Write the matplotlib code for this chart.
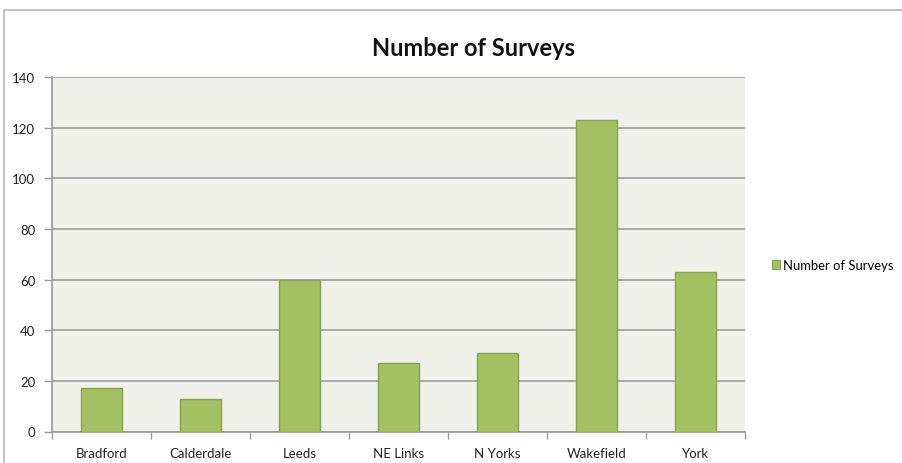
import matplotlib
matplotlib.use("Agg")
import matplotlib.pyplot as plt
from matplotlib.patches import Rectangle, Patch
import numpy as np

categories = ["Bradford", "Calderdale", "Leeds", "NE Links", "N Yorks", "Wakefield", "York"]
surveys = [17, 13, 60, 27, 31, 123, 63]
series_name = "Number of Surveys"
y_ticks = [0, 20, 40, 60, 80, 100, 120, 140]

plt.rcParams["font.family"] = ["Lato", "DejaVu Sans"]

W, H = 902, 464
fig = plt.figure(figsize=(W / 100, H / 100), dpi=100)
fig.patch.set_facecolor("white")

# chart frame
fig.patches.append(Rectangle((4 / W, -0.01), 1.02, 1 - 11 / H + 0.01,
                             transform=fig.transFigure, fill=False,
                             edgecolor="#B8B8B8", linewidth=1.2))

ax = fig.add_axes([52 / W, (H - 432.5) / H, 693 / W, 354.5 / H])
ax.set_facecolor("#F1F1EB")

x = np.arange(len(categories))
ax.bar(x, surveys, width=0.41, color="#A4C263", edgecolor="#86A24A",
       linewidth=1.0, zorder=3)

ax.set_xlim(-0.5, len(categories) - 0.5)
ax.set_ylim(0, 140)
ax.set_yticks(y_ticks)
ax.yaxis.grid(True, color="#A8A8A8", linewidth=1.4, zorder=1)
ax.set_axisbelow(True)

ax.set_xticks(x)
ax.set_xticklabels(categories)
ax.set_xticks(np.arange(-0.5, len(categories)), minor=True)
ax.tick_params(axis="x", which="major", length=0, pad=11, labelsize=9.5,
               labelcolor="#222222")
ax.tick_params(axis="x", which="minor", length=5, width=1.0, color="#9A9A9A")
ax.tick_params(axis="y", length=6, width=1.0, color="#9A9A9A", pad=6,
               labelsize=9.5, labelcolor="#222222")

for s in ["top", "right"]:
    ax.spines[s].set_visible(False)
for s in ["left", "bottom"]:
    ax.spines[s].set_color("#9A9A9A")
    ax.spines[s].set_linewidth(1.2)

fig.text(473 / W, 1 - 48 / H, "Number of Surveys", ha="center", va="center",
         fontsize=17, fontweight="bold", color="#111111")

handle = Patch(facecolor="#A4C263", edgecolor="#86A24A", linewidth=0.8)
fig.legend([handle], [series_name], loc="center left",
           bbox_to_anchor=(772 / W, 1 - 266 / H), frameon=False,
           fontsize=9.4, handlelength=0.6, handleheight=0.6,
           handletextpad=0.25, borderaxespad=0, borderpad=0)

fig.savefig("out.png", dpi=100)
